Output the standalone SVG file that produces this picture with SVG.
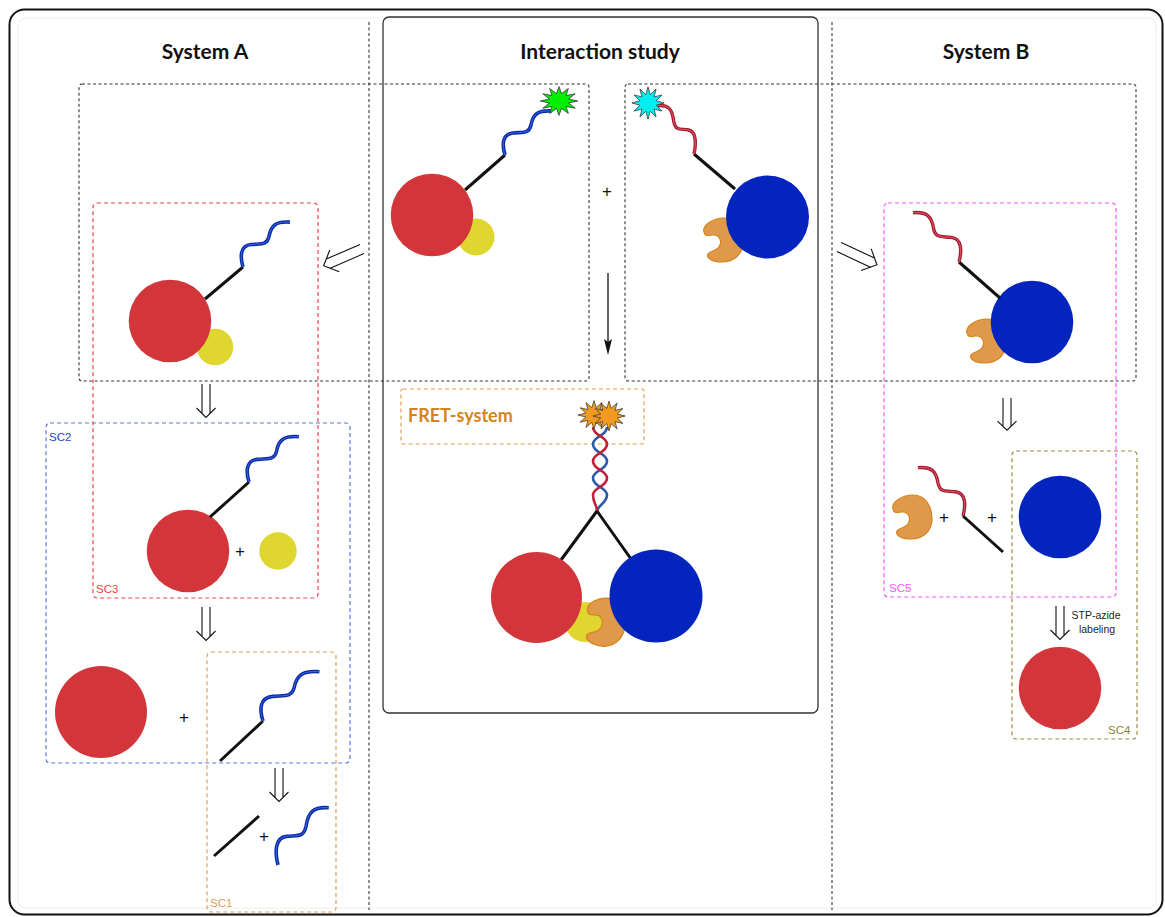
<svg xmlns="http://www.w3.org/2000/svg" xmlns:xlink="http://www.w3.org/1999/xlink" width="1165" height="917" viewBox="0 0 1165 917">
<style>
  .title { font-family: Lato, "Liberation Sans", sans-serif; font-weight: bold; font-size: 21px; fill: #111; text-anchor: middle; }
  .sc { font-family: "Liberation Sans", Arial, sans-serif; font-size: 11.5px; }
  .plus { font-family: "Liberation Sans", Arial, sans-serif; font-size: 17px; fill: #111; text-anchor: middle; }
  .note { font-family: "Liberation Sans", Arial, sans-serif; font-size: 10.5px; fill: #222; text-anchor: middle; }
  .dash-k { fill: none; stroke: #333; stroke-width: 1.1; stroke-dasharray: 3 2.5; }
  .box { fill: none; stroke-width: 1.2; stroke-dasharray: 4 3; }
  .link { stroke: #111; stroke-width: 3; stroke-linecap: butt; fill: none; }
  .red { fill: #d3363a; }
  .yel { fill: #dfd72f; }
  .blu { fill: #0325bd; }
  .enz { fill: #e0994a; stroke: #d4841e; stroke-width: 1.2; }
  .star { stroke: #333; stroke-width: 0.8; }
  .dbl { fill: none; stroke: #111; stroke-width: 1.1; }
</style>
<defs>
  <!-- single-stranded oligo ribbon, drawn from its anchor (0,0) up and to the right -->
  <path id="wave" d="M0,0 C-3,-10 -3,-21 8,-22 C18,-23 24,-21 26,-30 C28,-41 33,-45 47,-44" fill="none" vector-effect="non-scaling-stroke"/>
  <g id="waveBlue">
    <use xlink:href="#wave" stroke="#0a2aa8" stroke-width="3.6"/>
    <use xlink:href="#wave" stroke="#3f66e0" stroke-width="1"/>
  </g>
  <g id="waveRed">
    <use xlink:href="#wave" stroke="#a8182e" stroke-width="3.4"/>
    <use xlink:href="#wave" stroke="#dd5a6a" stroke-width="1"/>
  </g>
  <!-- enzyme (C-shaped, opening to the left) -->
  <path id="enzyme" class="enz" d="M-18,-8 C-20,-14 -10,-22 2,-22 C15,-22 21,-10 21,2 C21,14 12,22 0,22 C-10,22 -16,18 -14,14 C-12,10 -4,12 -2,5 C0,-1 -4,-6 -10,-5 C-15,-4 -17,-4 -18,-8 Z"/>
  <!-- fluorophore burst -->
  <polygon id="star" class="star" points="17,0 8.7,2.3 14.7,8.5 6.4,6.4 8.5,14.7 2.3,8.7 0,17 -2.3,8.7 -8.5,14.7 -6.4,6.4 -14.7,8.5 -8.7,2.3 -17,0 -8.7,-2.3 -14.7,-8.5 -6.4,-6.4 -8.5,-14.7 -2.3,-8.7 0,-17 2.3,-8.7 8.5,-14.7 6.4,-6.4 14.7,-8.5 8.7,-2.3"/>
  <!-- hollow double arrow pointing down, tip at (0,33.5) -->
  <path id="dblArrow" class="dbl" d="M-4,0 V30 M4,0 V30 M-9.5,24 L0,33.5 L9.5,24" vector-effect="non-scaling-stroke"/>
</defs>

<!-- frame -->
<rect x="9.5" y="9.5" width="1153" height="905" rx="15" fill="#fff" stroke="#111" stroke-width="2"/>
<rect x="18" y="18" width="1138" height="890" rx="8" fill="none" stroke="#eeeeee" stroke-width="1"/>

<!-- column separators -->
<g id="separators">
  <line x1="369" y1="22" x2="369" y2="910" class="dash-k"/>
  <line x1="832" y1="22" x2="832" y2="910" class="dash-k"/>
</g>

<!-- interaction study panel -->
<rect id="interaction-panel" x="383" y="17" width="435" height="696" rx="6" fill="none" stroke="#333" stroke-width="1.3"/>

<g id="titles">
  <text class="title" x="205" y="59">System A</text>
  <text class="title" x="600" y="59">Interaction study</text>
  <text class="title" x="986" y="59">System B</text>
</g>

<!-- grouping boxes -->
<g id="boxes">
  <rect x="79" y="84" width="510" height="297" rx="3" class="dash-k"/>
  <rect x="625" y="84" width="511" height="297" rx="3" class="dash-k"/>
  <rect id="SC3" x="93" y="203" width="225" height="395" rx="4" class="box" stroke="#e8474c"/>
  <rect id="SC2" x="46" y="423" width="304" height="340" rx="4" class="box" stroke="#5a78e0"/>
  <rect id="SC1" x="207" y="652" width="129" height="260" rx="4" class="box" stroke="#e0a060"/>
  <rect id="SC5" x="884" y="203" width="232" height="394" rx="4" class="box" stroke="#ff55ff"/>
  <rect id="SC4" x="1012" y="451" width="125" height="288" rx="4" class="box" stroke="#9a9040"/>
  <rect id="FRET" x="401" y="389" width="243" height="55" rx="2" class="box" stroke="#e0a050"/>
  <text class="sc" x="49" y="441" fill="#2345c8">SC2</text>
  <text class="sc" x="96" y="593" fill="#e0474c">SC3</text>
  <text class="sc" x="210" y="907" fill="#e0a050">SC1</text>
  <text class="sc" x="889" y="592" fill="#ff55ff">SC5</text>
  <text class="sc" x="1108" y="734" fill="#8a8530">SC4</text>
  <text x="408" y="422" font-family="Lato, 'Liberation Sans', sans-serif" font-weight="bold" font-size="18" fill="#d4841e">FRET-system</text>
</g>

<!-- connectors -->
<g id="connectors">
  <use xlink:href="#dblArrow" transform="translate(362,249) rotate(66.5) scale(1.25)"/>
  <use xlink:href="#dblArrow" transform="translate(839,247) rotate(-65) scale(1.25)"/>
  <use xlink:href="#dblArrow" transform="translate(206,384)"/>
  <use xlink:href="#dblArrow" transform="translate(206,607)"/>
  <use xlink:href="#dblArrow" transform="translate(279,768)"/>
  <use xlink:href="#dblArrow" transform="translate(1007,398) scale(1,0.96)"/>
  <use xlink:href="#dblArrow" transform="translate(1060,606)"/>
  <line x1="608" y1="273" x2="608" y2="344" stroke="#111" stroke-width="1.3"/>
  <path d="M604,339 L608,342 L612,339 L608,355 Z" fill="#111"/>
</g>

<!-- system A labelled conjugate (interaction panel) -->
<g id="conjugateA">
  <circle class="yel" cx="476" cy="237" r="18.5"/>
  <circle class="red" cx="432" cy="215" r="41.3"/>
  <line class="link" x1="465" y1="190" x2="505" y2="155"/>
  <use xlink:href="#waveBlue" transform="translate(505,155)"/>
  <use xlink:href="#star" fill="#00f000" transform="translate(559,101) scale(1.1,0.85)"/>
</g>
<text class="plus" x="607" y="197">+</text>

<!-- system B labelled conjugate (interaction panel) -->
<g id="conjugateB">
  <use xlink:href="#enzyme" transform="translate(722,240)"/>
  <circle class="blu" cx="767.5" cy="217" r="41.5"/>
  <line class="link" x1="735" y1="189" x2="694" y2="154"/>
  <use xlink:href="#waveRed" transform="translate(694,154) scale(-0.78,1.1)"/>
  <use xlink:href="#star" fill="#00eeee" transform="translate(648,103) scale(0.95)"/>
</g>

<!-- FRET complex -->
<g id="fretComplex">
  <path d="M607,427 C607,436 593,436 593,444 C593,453 607,453 607,461 C607,470 593,470 593,478 C593,487 607,487 607,495 C607,503 598,505 597,511" fill="none" stroke="#2a5aa8" stroke-width="2.6"/>
  <path d="M593,427 C593,436 607,436 607,444 C607,453 593,453 593,461 C593,470 607,470 607,478 C607,487 593,487 593,495 C593,503 597,505 597,511" fill="none" stroke="#c0203a" stroke-width="2.6"/>
  <use xlink:href="#star" fill="#f09a20" transform="translate(594,415) scale(0.95,0.85)"/>
  <use xlink:href="#star" fill="#f09a20" transform="translate(609,416) scale(0.95,0.88)"/>
  <line class="link" x1="597" y1="511" x2="561" y2="560"/>
  <line class="link" x1="597" y1="511" x2="631" y2="559"/>
  <circle class="yel" cx="585" cy="622" r="20"/>
  <use xlink:href="#enzyme" transform="translate(604,622) rotate(10) scale(1.02,1.1)"/>
  <circle class="red" cx="536.5" cy="597.5" r="45.5"/>
  <circle class="blu" cx="656" cy="596" r="46.5"/>
</g>

<!-- system A breakdown -->
<g id="A-full">
  <circle class="yel" cx="215" cy="347" r="18.3"/>
  <circle class="red" cx="170" cy="321" r="41.3"/>
  <line class="link" x1="205" y1="299" x2="243" y2="267"/>
  <use xlink:href="#waveBlue" transform="translate(243,267) scale(1,1.02)"/>
</g>
<g id="A-SC3">
  <circle class="red" cx="188" cy="551" r="41.3"/>
  <line class="link" x1="210" y1="517" x2="249" y2="482"/>
  <use xlink:href="#waveBlue" transform="translate(249,482) scale(1.06,1.03)"/>
  <text class="plus" x="240" y="557">+</text>
  <circle class="yel" cx="278" cy="551" r="18.7"/>
</g>
<g id="A-SC2">
  <circle class="red" cx="101" cy="712" r="46"/>
  <text class="plus" x="184" y="723">+</text>
  <line class="link" x1="220" y1="761" x2="263" y2="721"/>
  <use xlink:href="#waveBlue" transform="translate(263,721) scale(1.2,1.12)"/>
</g>
<g id="A-SC1">
  <line class="link" x1="214" y1="856" x2="259" y2="816"/>
  <text class="plus" x="264" y="842">+</text>
  <use xlink:href="#waveBlue" transform="translate(278,865) scale(1.08,1.3)"/>
</g>

<!-- system B breakdown -->
<g id="B-full">
  <use xlink:href="#enzyme" transform="translate(985,341)"/>
  <circle class="blu" cx="1032" cy="322" r="41.3"/>
  <line class="link" x1="1000" y1="298" x2="959" y2="262"/>
  <use xlink:href="#waveRed" transform="translate(959,262) scale(-0.98,1.12)"/>
</g>
<g id="B-SC5">
  <use xlink:href="#enzyme" transform="translate(911,517)"/>
  <text class="plus" x="944" y="523">+</text>
  <use xlink:href="#waveRed" transform="translate(963,516) scale(-0.96,1.1)"/>
  <line class="link" x1="963" y1="516" x2="1003" y2="552"/>
  <text class="plus" x="992" y="523">+</text>
  <circle class="blu" cx="1060" cy="517" r="41.3"/>
</g>
<g id="B-SC4">
  <text class="note" x="1096" y="619">STP-azide</text>
  <text class="note" x="1097" y="633">labeling</text>
  <circle class="red" cx="1060" cy="688" r="41.3"/>
</g>
</svg>
